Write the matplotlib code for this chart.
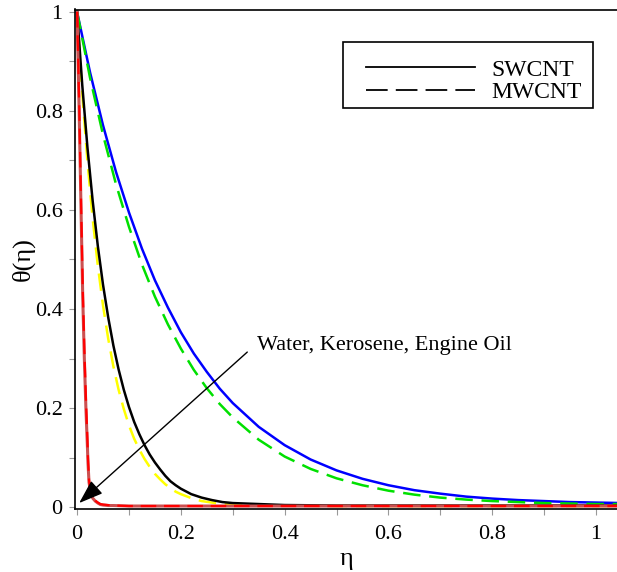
import matplotlib
matplotlib.use("Agg")
import matplotlib.pyplot as plt
from matplotlib.lines import Line2D
from matplotlib.patches import Rectangle

plt.rcParams['font.family'] = ['Liberation Serif', 'DejaVu Serif']

# 读图估计的数据点
eta_w = [0, 0.025, 0.05, 0.075, 0.1, 0.125, 0.15, 0.175, 0.2, 0.225, 0.25,
         0.275, 0.3, 0.35, 0.4, 0.45, 0.5, 0.55, 0.6, 0.65, 0.7, 0.75, 0.8,
         0.85, 0.9, 0.95, 1.0, 1.05]
water_sw = [1, 0.878, 0.771, 0.677, 0.595, 0.522, 0.458, 0.403, 0.353, 0.310,
            0.273, 0.239, 0.210, 0.162, 0.125, 0.096, 0.074, 0.057, 0.044,
            0.034, 0.027, 0.021, 0.017, 0.014, 0.012, 0.010, 0.009, 0.008]
water_mw = [1, 0.867, 0.752, 0.652, 0.566, 0.490, 0.425, 0.369, 0.320, 0.277,
            0.240, 0.208, 0.181, 0.136, 0.102, 0.077, 0.058, 0.044, 0.033,
            0.025, 0.019, 0.015, 0.012, 0.010, 0.008, 0.007, 0.006, 0.006]

eta_k = [0, 0.01, 0.02, 0.03, 0.04, 0.05, 0.06, 0.07, 0.08, 0.09, 0.1, 0.11,
         0.12, 0.13, 0.14, 0.15, 0.16, 0.17, 0.18, 0.19, 0.2, 0.22, 0.24,
         0.26, 0.28, 0.3, 0.35, 0.4, 0.5, 0.6, 0.8, 1.05]
kero_sw = [1, 0.852, 0.726, 0.619, 0.527, 0.449, 0.383, 0.326, 0.278, 0.237,
           0.202, 0.172, 0.147, 0.125, 0.106, 0.090, 0.076, 0.063, 0.052,
           0.044, 0.037, 0.026, 0.019, 0.014, 0.010, 0.008, 0.006, 0.004,
           0.003, 0.003, 0.003, 0.003]
kero_mw = [1, 0.835, 0.698, 0.583, 0.487, 0.407, 0.340, 0.284, 0.237, 0.198,
           0.165, 0.138, 0.116, 0.097, 0.081, 0.067, 0.056, 0.046, 0.038,
           0.031, 0.026, 0.018, 0.012, 0.009, 0.006, 0.005, 0.004, 0.003,
           0.002, 0.002, 0.002, 0.002]

eta_o = [0, 0.004, 0.008, 0.011, 0.014, 0.017, 0.02, 0.021, 0.023, 0.025,
         0.027, 0.03, 0.035, 0.04, 0.045, 0.05, 0.06, 0.07, 0.1, 0.3, 1.05]
oil_sw = [1, 0.82, 0.60, 0.44, 0.32, 0.22, 0.135, 0.10, 0.055, 0.040, 0.030,
          0.020, 0.013, 0.009, 0.006, 0.005, 0.004, 0.003, 0.002, 0.002, 0.002]
oil_mw = [1, 0.80, 0.58, 0.42, 0.30, 0.20, 0.12, 0.09, 0.050, 0.037, 0.027,
          0.018, 0.012, 0.008, 0.005, 0.004, 0.003, 0.003, 0.002, 0.002, 0.002]

dash = (7, 3.5)

fig = plt.figure(figsize=(6.17, 5.72), dpi=100)
ax = fig.add_axes([75 / 617, 63.5 / 572, 542 / 617, 499 / 572])

ax.plot(eta_w, water_sw, color='blue', lw=1.8)
ax.plot(eta_w, water_mw, color='#00e000', lw=1.8, dashes=dash)
ax.plot(eta_k, kero_mw, color='#ffff00', lw=1.8, dashes=dash)
ax.plot(eta_k, kero_sw, color='black', lw=1.8)
ax.plot(eta_o, oil_mw, color='#cc5050', lw=2.2)
ax.plot(eta_o, oil_sw, color='red', lw=1.6, dashes=dash)

ax.set_xlim(-0.004, 1.0405)
ax.set_ylim(-0.003, 1.005)
ax.set_xticks([0, 0.2, 0.4, 0.6, 0.8, 1.0])
ax.set_xticklabels(['0', '0.2', '0.4', '0.6', '0.8', '1'])
ax.set_yticks([0, 0.2, 0.4, 0.6, 0.8, 1.0])
ax.set_yticklabels(['0', '0.2', '0.4', '0.6', '0.8', '1'])
ax.set_xticks([0.1, 0.3, 0.5, 0.7, 0.9], minor=True)
ax.set_yticks([0.1, 0.3, 0.5, 0.7, 0.9], minor=True)
ax.tick_params(which='both', direction='out', length=4, width=0.8,
               color='#999999', labelsize=16)
ax.tick_params(axis='x', pad=8)
ax.tick_params(axis='y', pad=5)
ax.spines['right'].set_visible(False)
for s in ['left', 'bottom', 'top']:
    ax.spines[s].set_linewidth(1.2)

ax.set_xlabel('η', fontsize=19, labelpad=3)
ax.set_ylabel('θ(η)', fontsize=19, labelpad=0)

# 标注
ax.text(0.347, 0.327, 'Water, Kerosene, Engine Oil', fontsize=16, va='center')
ax.annotate('', xy=(0.004, 0.008), xytext=(0.328, 0.313),
            arrowprops=dict(arrowstyle='-|>,head_length=1.0,head_width=0.35',
                            mutation_scale=15, color='black', lw=1,
                            shrinkA=0, shrinkB=0))

# 图例
handles = [Line2D([], [], color='black', lw=1.3),
           Line2D([], [], color='black', lw=1.3, dashes=(12, 4.5))]
leg = fig.legend(handles, ['SWCNT', 'MWCNT'], loc='upper left',
                 bbox_to_anchor=(366 / 617, 1 - 59 / 572), fontsize=17,
                 handlelength=4.6, handletextpad=0.7, labelspacing=0.04,
                 borderpad=0, borderaxespad=0, frameon=False)
fig.patches.append(Rectangle((343 / 617, 1 - 108 / 572), 250 / 617, 66 / 572,
                             transform=fig.transFigure, fill=False,
                             edgecolor='black', lw=1.2))

fig.savefig('out.png', dpi=100)
